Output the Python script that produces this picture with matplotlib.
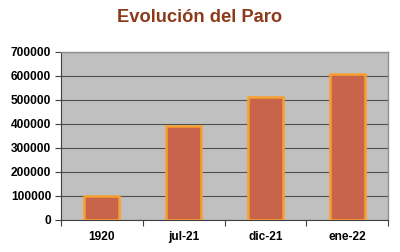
import numpy as np
import matplotlib.pyplot as plt
from matplotlib.ticker import FixedLocator

# datos
periodos = ["1920", "jul-21", "dic-21", "ene-22"]
parados = [98000, 390000, 512000, 608000]
yticks = [0, 100000, 200000, 300000, 400000, 500000, 600000, 700000]

plt.rcParams['font.family'] = ['Liberation Sans', 'DejaVu Sans']

fig = plt.figure(figsize=(4.0, 2.52), dpi=100)
ax = fig.add_axes([0.1525, 0.127, 0.8175, 0.667])
ax.set_facecolor('#c0c0c0')

x = np.arange(len(periodos))
ax.bar(x, parados, width=0.43, color='#c8644a', edgecolor='#f7a030',
       linewidth=1.8, zorder=3)

ax.set_ylim(0, 700000)
ax.set_xlim(-0.5, len(periodos) - 0.5)
ax.set_yticks(yticks)
ax.set_yticklabels([str(v) for v in yticks], fontsize=8.6, fontweight='bold')
ax.yaxis.grid(True, color='#505050', linewidth=0.8, zorder=1)

# ticks en los limites de categoria, etiquetas en el centro
ax.xaxis.set_major_locator(FixedLocator(np.arange(-0.5, len(periodos), 1.0)))
ax.set_xticklabels([])
ax.xaxis.set_minor_locator(FixedLocator(x))
ax.set_xticklabels(periodos, minor=True, fontsize=8.6, fontweight='bold')
ax.tick_params(axis='x', which='major', length=4, color='#404040')
ax.tick_params(axis='x', which='minor', length=0, pad=8)
ax.tick_params(axis='y', length=4, color='#404040', pad=3)

for s in ['top', 'right']:
    ax.spines[s].set_color('#909090')
    ax.spines[s].set_linewidth(1.0)
ax.spines['left'].set_color('#404040')
ax.spines['bottom'].set_color('#404040')

fig.text(0.5, 0.93, "Evolución del Paro", ha='center', va='center',
         fontsize=13.2, fontweight='bold', color='#8b3a1a')

fig.savefig('out.png', dpi=100, facecolor='white')
